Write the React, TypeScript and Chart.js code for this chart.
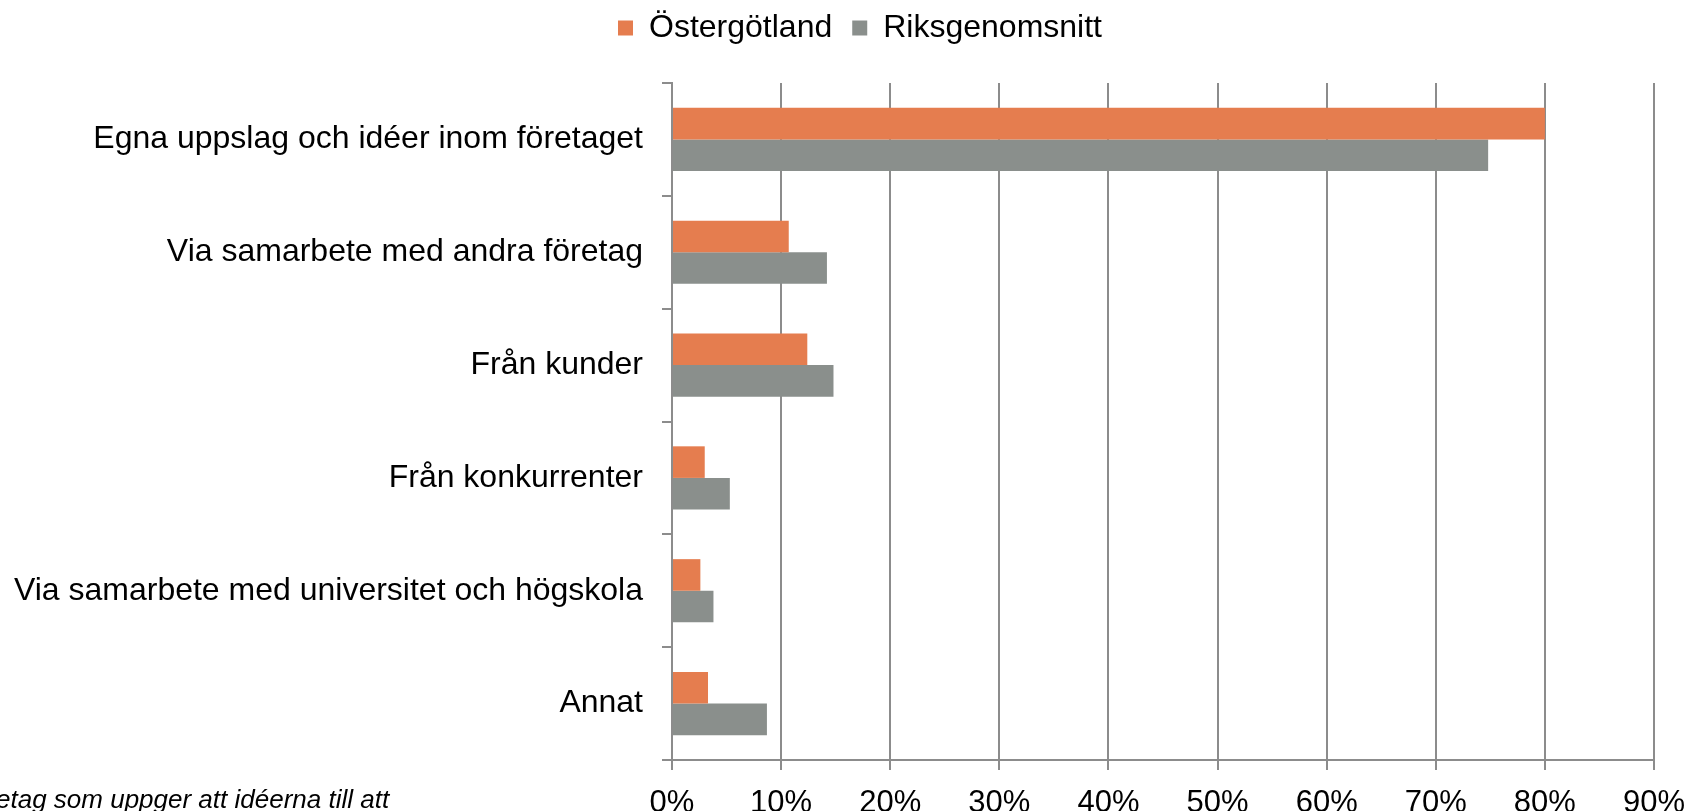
import React, { useEffect, useRef } from "react";
import { Chart, registerables } from "chart.js";

Chart.register(...registerables);

const categories = [
  "Egna uppslag och idéer inom företaget",
  "Via samarbete med andra företag",
  "Från kunder",
  "Från konkurrenter",
  "Via samarbete med universitet och högskola",
  "Annat",
];
const seriesNames = ["Östergötland", "Riksgenomsnitt"];
const ostergotland = [80.0, 10.7, 12.4, 3.0, 2.6, 3.3];
const riksgenomsnitt = [74.8, 14.2, 14.8, 5.3, 3.8, 8.7];
const xMax = 90;
const xStep = 10;
const noteText = "etag som uppger att idéerna till att";

const FONT = "'Liberation Sans', Arial, Helvetica, sans-serif";
const GRID = "#8c8c8c";

const legendSpacer = {
  id: "legendSpacer",
  beforeInit(chart: any) {
    const legend = chart.legend;
    if (!legend) return;
    const orig = legend.fit;
    legend.fit = function () {
      orig.call(this);
      this.height += 29;
      if (this.lineWidths && this.lineWidths.length) this.lineWidths[0] -= 66;
    };
  },
};

export default function App() {
  const ref = useRef<HTMLCanvasElement | null>(null);

  useEffect(() => {
    if (!ref.current) return;
    const chart = new Chart(ref.current, {
      type: "bar",
      data: {
        labels: categories,
        datasets: [
          {
            label: seriesNames[0],
            data: ostergotland,
            backgroundColor: "#E57D4F",
            borderWidth: 0,
            barPercentage: 1,
            categoryPercentage: 0.56,
          },
          {
            label: seriesNames[1],
            data: riksgenomsnitt,
            backgroundColor: "#8A8F8C",
            borderWidth: 0,
            barPercentage: 1,
            categoryPercentage: 0.56,
          },
        ],
      },
      options: {
        indexAxis: "y",
        responsive: false,
        animation: false,
        devicePixelRatio: 1,
        layout: { padding: { top: -8, left: 0, right: 49, bottom: 0 } },
        plugins: {
          tooltip: { enabled: false },
          legend: {
            position: "top",
            labels: {
              boxWidth: 15,
              boxHeight: 15,
              padding: 20,
              color: "#000",
              font: { family: FONT, size: 32 },
            },
          },
        },
        scales: {
          x: {
            type: "linear",
            position: "bottom",
            min: 0,
            max: xMax,
            ticks: {
              stepSize: xStep,
              color: "#000",
              padding: 15,
              font: { family: FONT, size: 31 },
              callback: (v: any) => v + "%",
            },
            grid: { color: GRID, lineWidth: 2, tickLength: 10, drawTicks: true },
            border: { display: true, color: GRID, width: 2 },
            afterFit: (s: any) => {
              s.height = 51;
            },
          },
          y: {
            type: "category",
            offset: true,
            ticks: {
              color: "#000",
              padding: 19,
              font: { family: FONT, size: 32 },
            },
            grid: {
              offset: true,
              drawOnChartArea: false,
              drawTicks: true,
              tickLength: 10,
              color: GRID,
              lineWidth: 2,
            },
            border: { display: true, color: GRID, width: 2 },
            afterFit: (s: any) => {
              s.width = 672;
            },
          },
        },
      },
      plugins: [legendSpacer],
    } as any);
    return () => chart.destroy();
  }, []);

  return (
    <div
      style={{
        position: "absolute",
        left: 0,
        top: 0,
        width: 1703,
        height: 811,
        overflow: "hidden",
        background: "#fff",
      }}
    >
      <canvas ref={ref} width={1703} height={811} style={{ width: 1703, height: 811, display: "block" }} />
      <div
        style={{
          position: "absolute",
          left: -4,
          top: 786,
          fontFamily: FONT,
          fontStyle: "italic",
          fontSize: 26,
          lineHeight: "26px",
          whiteSpace: "nowrap",
          color: "#000",
        }}
      >
        {noteText}
      </div>
    </div>
  );
}
